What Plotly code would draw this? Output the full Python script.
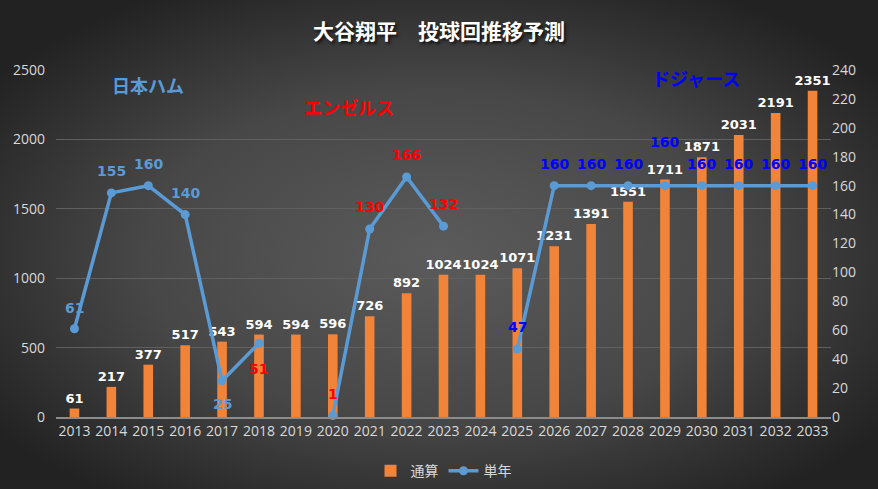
import base64
import plotly.graph_objects as go

# 大谷翔平 投球回 (通算 = cumulative, 単年 = single season)
years = list(range(2013, 2034))
total_ip = [61, 217, 377, 517, 543, 594, 594, 596, 726, 892, 1024,
            1024, 1071, 1231, 1391, 1551, 1711, 1871, 2031, 2191, 2351]
season_ip = [61, 155, 160, 140, 25, 51, None, 1, 130, 166, 132,
             None, 47, 160, 160, 160, 160, 160, 160, 160, 160]

teams = ["日本ハム", "エンゼルス", "ドジャース"]

# label look for the single-season points
lbl_colors = ["#5B9BD5"] * 5 + ["#FF0000"] * 6 + ["#0000FF"] * 10
lbl_shift = [21, 22, 22, 22, -23, -26, 0, 22, 22, 22, 22,
             0, 22, 22, 22, 22, 44, 22, 22, 22, 22]

W, H = 878, 489
ml, mr, mt, mb = 56, 47, 70, 72

svg = ("<svg xmlns='http://www.w3.org/2000/svg' width='878' height='489' preserveAspectRatio='none'>"
       "<defs><radialGradient id='g' cx='50%' cy='52%' r='62%'>"
       "<stop offset='0' stop-color='#5b5b5b'/><stop offset='0.55' stop-color='#474747'/>"
       "<stop offset='1' stop-color='#222222'/></radialGradient></defs>"
       "<rect width='878' height='489' fill='url(#g)'/></svg>")
bg = "data:image/svg+xml;base64," + base64.b64encode(svg.encode()).decode()

pw = W - ml - mr
ph = H - mt - mb

fig = go.Figure()
fig.add_trace(go.Bar(
    x=years, y=total_ip, name="通算",
    marker=dict(color="#F2843A", line=dict(width=0)),
    width=0.26,
    text=[str(v) for v in total_ip], textposition="outside",
    textfont=dict(family="DejaVu Sans", size=13, color="white", weight="bold"),
    constraintext="none", cliponaxis=False,
))
fig.add_trace(go.Scatter(
    x=years, y=season_ip, name="単年", yaxis="y2",
    mode="lines+markers", connectgaps=False,
    line=dict(color="#5B9BD5", width=3.5),
    marker=dict(color="#5B9BD5", size=9),
    cliponaxis=False,
))

anns = []
for yr, v, c, s in zip(years, season_ip, lbl_colors, lbl_shift):
    if v is None:
        continue
    anns.append(dict(x=yr, y=v, xref="x", yref="y2", text=str(v), showarrow=False,
                     yshift=s, font=dict(family="DejaVu Sans", size=14, color=c, weight="bold")))

anns.append(dict(x=2015, y=2390, xref="x", yref="y", text=teams[0], showarrow=False,
                 font=dict(family="Noto Sans CJK JP", size=18, color="#5B9BD5", weight="bold")))
anns.append(dict(x=2020.45, y=2235, xref="x", yref="y", text=teams[1], showarrow=False,
                 font=dict(family="Noto Sans CJK JP", size=18, color="#FF0000", weight="bold")))
anns.append(dict(x=2029.85, y=2445, xref="x", yref="y", text=teams[2], showarrow=False,
                 font=dict(family="Noto Sans CJK JP", size=18, color="#0000FF", weight="bold")))

fig.update_layout(
    width=W, height=H,
    margin=dict(l=ml, r=mr, t=mt, b=mb, autoexpand=False),
    paper_bgcolor="#3a3a3a", plot_bgcolor="rgba(0,0,0,0)",
    images=[dict(source=bg, xref="paper", yref="paper",
                 x=-ml / pw, y=1 + mt / ph, sizex=W / pw, sizey=H / ph,
                 sizing="stretch", xanchor="left", yanchor="top", layer="below")],
    title=dict(text="大谷翔平　投球回推移予測", x=0.5, xanchor="center", y=0.95,
               font=dict(family="Noto Sans CJK JP", size=21, color="white", weight="bold",
                         shadow="2px 2px 3px #111")),
    font=dict(family="Open Sans", color="#D9D9D9", size=13),
    xaxis=dict(range=[2012.5, 2033.5], dtick=1, showgrid=False, showline=True,
               linecolor="#8C8C8C", linewidth=1.5, ticks="", zeroline=False,
               tickfont=dict(size=14, color="#D9D9D9")),
    yaxis=dict(range=[0, 2500], dtick=500, showgrid=True, gridcolor="#606060",
               zeroline=False, tickfont=dict(size=14, color="#D9D9D9"), ticklabelstandoff=10),
    yaxis2=dict(range=[0, 240], dtick=20, overlaying="y", side="right", showgrid=False,
                zeroline=False, tickfont=dict(size=14, color="#D9D9D9")),
    legend=dict(orientation="h", x=0.5, xanchor="center", y=-0.11, yanchor="top",
                font=dict(family="Noto Sans CJK JP", size=14, color="#D9D9D9"),
                bgcolor="rgba(0,0,0,0)"),
    annotations=anns,
)

fig.write_html("out.html", config={"displayModeBar": False},
               post_script="document.body.style.margin='0';document.body.style.overflow='hidden';")
